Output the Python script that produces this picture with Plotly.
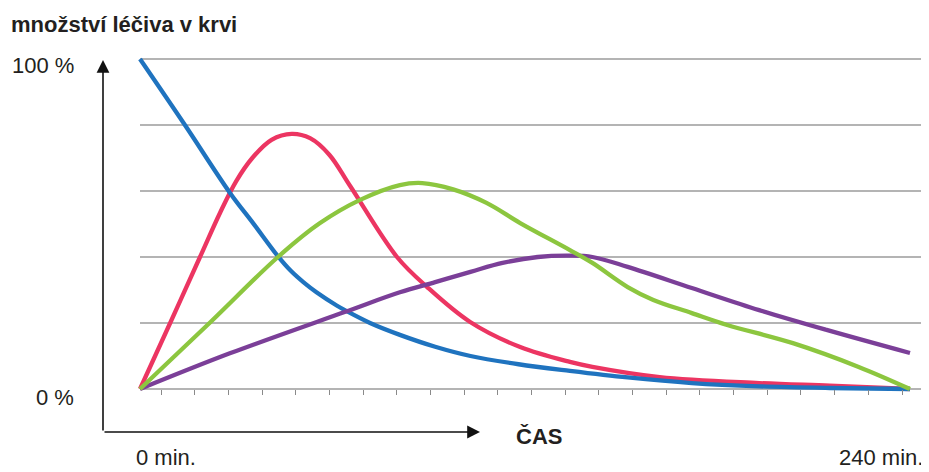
import plotly.graph_objects as go

# ---- data (time in minutes, amount of drug in blood in %) ----
t_blue = [0, 14, 28, 35.3, 43.1, 47, 51, 55, 61.3, 64.4, 71.7, 81, 92, 103, 118, 134, 152, 172, 193, 215, 240]
v_blue = [100, 80, 59.5, 50.2, 40.1, 35.8, 32.3, 29.3, 25.3, 23.6, 20, 16.4, 12.8, 10, 7.5, 5.5, 3.5, 1.8, 0.8, 0.3, 0]

t_red = [0, 9.4, 18.7, 25, 30, 35, 41, 47.3, 53, 59, 65.5, 80.1, 89.5, 102.9, 118.5, 134, 141, 162, 193, 215, 240]
v_red = [0, 20, 40, 53.5, 63, 70, 75.5, 77.3, 76, 71, 61.5, 40, 30.9, 20.3, 12.7, 8.2, 6.7, 3.6, 1.8, 1.0, 0]

t_green = [0, 22, 43, 56, 68.6, 81, 88, 97.6, 108, 118.5, 134, 141, 152, 160, 172, 183, 203.5, 224, 240]
v_green = [0, 20.3, 40, 50.2, 57.3, 61.8, 62.4, 60.5, 56.4, 50.3, 42.1, 38.2, 30.9, 27, 23, 19.4, 13.9, 6.7, 0]

t_purple = [0, 28, 64, 81, 92, 103, 113, 124, 134, 141, 152, 172, 193, 214, 240]
v_purple = [0, 10.8, 23.4, 29.3, 32.4, 35.5, 38.2, 40, 40.4, 40, 37, 30.6, 23.9, 17.9, 10.9]

grid_values = [0, 20, 40, 60, 80, 100]
y_title = "množství léčiva v krvi"
y_top_label = "100 %"
y_bottom_label = "0 %"
x_title = "ČAS"
x_start_label = "0 min."
x_end_label = "240 min."
t_max = 240

# ---- layout geometry (page pixels; the page body adds an 8 px offset) ----
OFF = 8
W_FIG, H_FIG = 929 - OFF, 472 - OFF
X0_PX, X240_PX = 140, 910          # t = 0 and t = 240
Y0_PX, Y100_PX = 389, 59           # 0 % and 100 %
PLOT_L, PLOT_R = 130, 926
PLOT_T, PLOT_B = 43, 406
GRID_END_PX = 922

kx = (X240_PX - X0_PX) / t_max
ky = (Y0_PX - Y100_PX) / 100.0

x_range = [(PLOT_L - X0_PX) / kx, (PLOT_R - X0_PX) / kx]
y_range = [(Y0_PX - PLOT_B) / ky, (Y0_PX - PLOT_T) / ky]
grid_end = (GRID_END_PX - X0_PX) / kx

def xp(px):
    return (px - PLOT_L) / (PLOT_R - PLOT_L)

def yp(py):
    return (PLOT_B - py) / (PLOT_B - PLOT_T)

TEXT = "#231f20"
FONT = "Liberation Sans, Arial, sans-serif"
FS = 22

fig = go.Figure()

series = [
    (t_red, v_red, "#ec3562"),
    (t_blue, v_blue, "#1f73bf"),
    (t_purple, v_purple, "#7b3f98"),
    (t_green, v_green, "#8cc63f"),
]
for tt, vv, col in series:
    fig.add_trace(go.Scatter(
        x=tt, y=vv, mode="lines",
        line=dict(color=col, width=4.3, shape="spline", smoothing=1.0),
        hoverinfo="skip", showlegend=False, cliponaxis=False,
    ))

shapes = []
for g in grid_values:
    shapes.append(dict(type="line", xref="x", yref="y", x0=0, x1=grid_end, y0=g, y1=g,
                       line=dict(color="#9b9b9b", width=1.5), layer="below"))

annotations = []
# axis arrows
annotations.append(dict(xref="paper", yref="paper", x=xp(103), y=yp(60), ax=0, ay=372,
                        axref="pixel", ayref="pixel", showarrow=True, arrowhead=2,
                        arrowsize=1.6, arrowwidth=1.6, arrowcolor="#111", text=""))
annotations.append(dict(xref="paper", yref="paper", x=xp(480), y=yp(432), ax=-377, ay=0,
                        axref="pixel", ayref="pixel", showarrow=True, arrowhead=2,
                        arrowsize=1.6, arrowwidth=1.6, arrowcolor="#111", text=""))
# texts
def label(px, py, text, anchor, bold=False):
    return dict(xref="paper", yref="paper", x=xp(px), y=yp(py),
                text=("<b>" + text + "</b>") if bold else text,
                showarrow=False, xanchor=anchor, yanchor="middle",
                font=dict(family=FONT, size=FS, color=TEXT))

annotations.append(label(9, 25, y_title, "left", bold=True))
annotations.append(label(76, 66, y_top_label, "right"))
annotations.append(label(76, 397, y_bottom_label, "right"))
annotations.append(label(514, 436, x_title, "left", bold=True))
annotations.append(label(134, 457, x_start_label, "left"))
annotations.append(label(925, 457, x_end_label, "right"))

tick0 = (161 - X0_PX) / kx
dtick = (902 - 161) / 22 / kx

fig.update_layout(
    width=W_FIG, height=H_FIG, autosize=False,
    margin=dict(l=PLOT_L - OFF, r=929 - PLOT_R, t=PLOT_T - OFF, b=472 - PLOT_B, pad=0),
    paper_bgcolor="white", plot_bgcolor="white",
    shapes=shapes, annotations=annotations,
    xaxis=dict(range=x_range, showgrid=False, zeroline=False, showline=False,
               showticklabels=False, ticks="outside", ticklen=5, tickwidth=1,
               tickcolor="#8a8a8a", tick0=tick0, dtick=dtick,
               anchor="free", position=yp(Y0_PX), fixedrange=True),
    yaxis=dict(range=y_range, showgrid=False, zeroline=False, showline=False,
               showticklabels=False, ticks="", fixedrange=True),
)

fig.write_html("out.html")
